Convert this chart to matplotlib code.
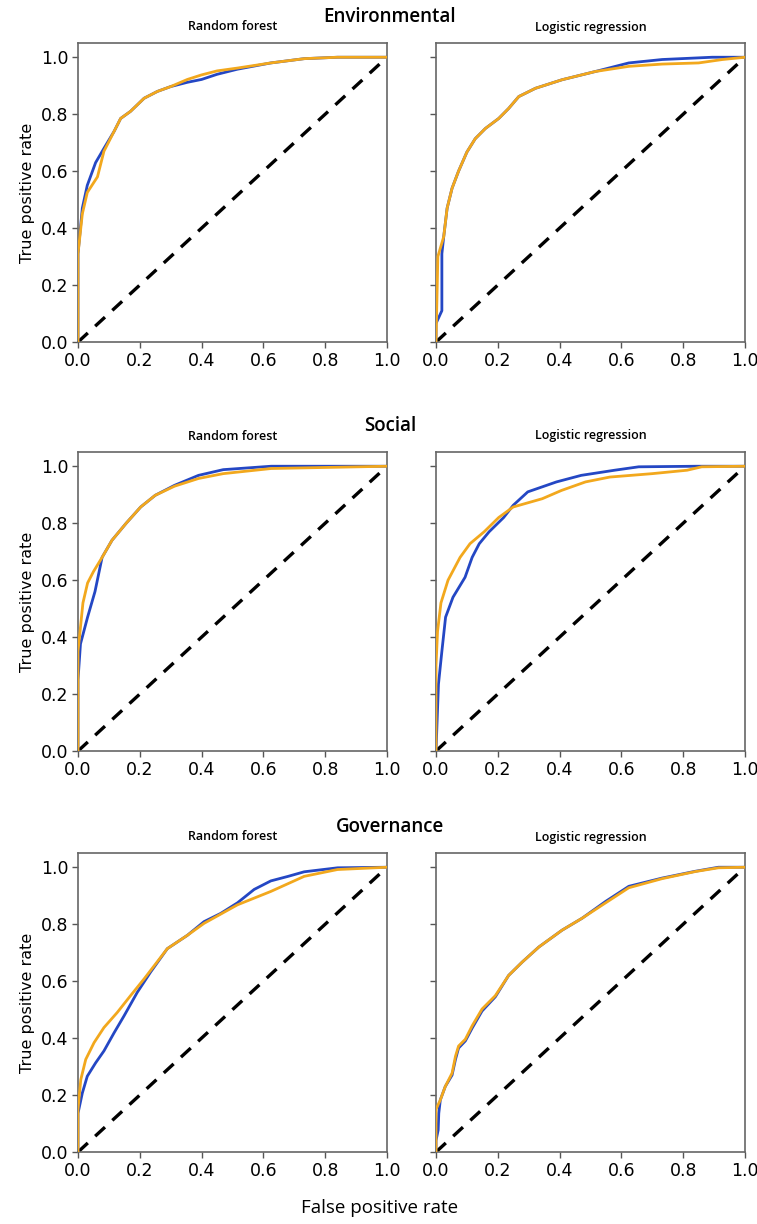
import matplotlib
matplotlib.use("Agg")
import matplotlib.pyplot as plt

# ROC curves (fpr, tpr), blue and orange runs per panel
env_rf_blue_fpr = [0, 0, 0.014, 0.03, 0.057, 0.084, 0.117, 0.138, 0.17, 0.214, 0.257, 0.30, 0.354, 0.40, 0.45, 0.516, 0.624, 0.732, 0.84, 1.0]
env_rf_blue_tpr = [0, 0.31, 0.47, 0.55, 0.63, 0.68, 0.74, 0.785, 0.81, 0.856, 0.88, 0.897, 0.912, 0.922, 0.94, 0.958, 0.98, 0.995, 1.0, 1.0]
env_rf_orng_fpr = [0, 0, 0.014, 0.03, 0.063, 0.084, 0.117, 0.138, 0.17, 0.214, 0.257, 0.30, 0.354, 0.40, 0.45, 0.516, 0.624, 0.732, 0.84, 1.0]
env_rf_orng_tpr = [0, 0.31, 0.45, 0.525, 0.58, 0.67, 0.74, 0.785, 0.81, 0.856, 0.88, 0.897, 0.922, 0.938, 0.952, 0.962, 0.98, 0.995, 1.0, 1.0]

env_lr_blue_fpr = [0, 0, 0.019, 0.019, 0.025, 0.036, 0.052, 0.073, 0.10, 0.127, 0.16, 0.203, 0.235, 0.268, 0.322, 0.408, 0.516, 0.624, 0.732, 0.894, 1.0]
env_lr_blue_tpr = [0, 0.065, 0.11, 0.31, 0.37, 0.47, 0.54, 0.60, 0.667, 0.714, 0.75, 0.785, 0.82, 0.862, 0.891, 0.921, 0.95, 0.98, 0.992, 1.0, 1.0]
env_lr_orng_fpr = [0, 0.006, 0.025, 0.036, 0.052, 0.073, 0.10, 0.127, 0.16, 0.203, 0.235, 0.268, 0.322, 0.408, 0.516, 0.624, 0.732, 0.85, 0.927, 1.0]
env_lr_orng_tpr = [0, 0.30, 0.37, 0.47, 0.54, 0.60, 0.667, 0.714, 0.75, 0.785, 0.82, 0.862, 0.891, 0.921, 0.95, 0.968, 0.976, 0.98, 0.992, 1.0]

soc_rf_blue_fpr = [0, 0, 0.008, 0.031, 0.055, 0.078, 0.11, 0.156, 0.203, 0.25, 0.3125, 0.39, 0.47, 0.625, 1.0]
soc_rf_blue_tpr = [0, 0.25, 0.376, 0.47, 0.56, 0.68, 0.74, 0.80, 0.857, 0.898, 0.933, 0.968, 0.988, 1.0, 1.0]
soc_rf_orng_fpr = [0, 0, 0.016, 0.031, 0.05, 0.078, 0.11, 0.156, 0.203, 0.25, 0.3125, 0.39, 0.47, 0.625, 1.0]
soc_rf_orng_tpr = [0, 0.35, 0.52, 0.59, 0.63, 0.68, 0.74, 0.80, 0.857, 0.898, 0.93, 0.957, 0.974, 0.992, 1.0]

soc_lr_blue_fpr = [0, 0.008, 0.019, 0.031, 0.055, 0.094, 0.117, 0.14, 0.172, 0.219, 0.25, 0.297, 0.39, 0.47, 0.578, 0.656, 0.844, 1.0]
soc_lr_blue_tpr = [0, 0.235, 0.35, 0.47, 0.54, 0.61, 0.68, 0.728, 0.77, 0.82, 0.863, 0.91, 0.945, 0.968, 0.986, 0.998, 1.0, 1.0]
soc_lr_orng_fpr = [0, 0, 0.005, 0.016, 0.039, 0.078, 0.11, 0.156, 0.203, 0.25, 0.344, 0.406, 0.484, 0.5625, 0.70, 0.8125, 0.86, 1.0]
soc_lr_orng_tpr = [0, 0.30, 0.42, 0.52, 0.60, 0.68, 0.728, 0.77, 0.82, 0.857, 0.886, 0.915, 0.945, 0.962, 0.974, 0.986, 0.998, 1.0]

gov_rf_blue_fpr = [0, 0, 0.014, 0.03, 0.057, 0.084, 0.117, 0.149, 0.192, 0.235, 0.289, 0.354, 0.408, 0.462, 0.516, 0.57, 0.624, 0.68, 0.732, 0.84, 1.0]
gov_rf_blue_tpr = [0, 0.136, 0.207, 0.266, 0.313, 0.355, 0.419, 0.478, 0.561, 0.632, 0.714, 0.761, 0.809, 0.838, 0.875, 0.922, 0.952, 0.968, 0.984, 0.998, 1.0]
gov_rf_orng_fpr = [0, 0, 0.009, 0.025, 0.052, 0.084, 0.127, 0.17, 0.214, 0.289, 0.354, 0.408, 0.516, 0.624, 0.732, 0.84, 1.0]
gov_rf_orng_tpr = [0, 0.15, 0.254, 0.325, 0.384, 0.437, 0.49, 0.549, 0.608, 0.714, 0.761, 0.803, 0.868, 0.915, 0.968, 0.992, 1.0]

gov_lr_blue_fpr = [0, 0, 0.007, 0.009, 0.014, 0.03, 0.052, 0.063, 0.073, 0.095, 0.117, 0.149, 0.192, 0.235, 0.279, 0.333, 0.408, 0.473, 0.549, 0.624, 0.732, 0.84, 0.914, 1.0]
gov_lr_blue_tpr = [0, 0.04, 0.077, 0.136, 0.183, 0.23, 0.27, 0.325, 0.365, 0.39, 0.435, 0.495, 0.545, 0.62, 0.667, 0.72, 0.779, 0.821, 0.88, 0.933, 0.962, 0.986, 1.0, 1.0]
gov_lr_orng_fpr = [0, 0, 0.014, 0.03, 0.052, 0.063, 0.073, 0.095, 0.117, 0.149, 0.192, 0.235, 0.279, 0.333, 0.408, 0.473, 0.549, 0.624, 0.732, 0.84, 0.914, 1.0]
gov_lr_orng_tpr = [0, 0.15, 0.183, 0.23, 0.277, 0.336, 0.372, 0.396, 0.443, 0.502, 0.549, 0.62, 0.667, 0.72, 0.779, 0.821, 0.875, 0.928, 0.96, 0.985, 0.998, 1.0]

row_titles = ["Environmental", "Social", "Governance"]
col_titles = ["Random forest", "Logistic regression"]
ticks = [0.0, 0.2, 0.4, 0.6, 0.8, 1.0]

panels = [
    [(env_rf_blue_fpr, env_rf_blue_tpr, env_rf_orng_fpr, env_rf_orng_tpr),
     (env_lr_blue_fpr, env_lr_blue_tpr, env_lr_orng_fpr, env_lr_orng_tpr)],
    [(soc_rf_blue_fpr, soc_rf_blue_tpr, soc_rf_orng_fpr, soc_rf_orng_tpr),
     (soc_lr_blue_fpr, soc_lr_blue_tpr, soc_lr_orng_fpr, soc_lr_orng_tpr)],
    [(gov_rf_blue_fpr, gov_rf_blue_tpr, gov_rf_orng_fpr, gov_rf_orng_tpr),
     (gov_lr_blue_fpr, gov_lr_blue_tpr, gov_lr_orng_fpr, gov_lr_orng_tpr)],
]

blue = '#2447c4'
orange = '#f2a81d'
W, H = 757, 1224
fig = plt.figure(figsize=(W / 100, H / 100), dpi=100, facecolor='white')

col_left = [78, 436]
ax_w = 309
row_bottom = [342, 751, 1152]
ax_h = 299

for r in range(3):
    for c in range(2):
        ax = fig.add_axes([col_left[c] / W, 1 - row_bottom[r] / H, ax_w / W, ax_h / H])
        bf, bt, of, ot = panels[r][c]
        ax.plot([0, 1], [0, 1], color='black', lw=2.4, linestyle=(0, (4, 3)), zorder=1)
        ax.plot(bf, bt, color=blue, lw=2.0, zorder=2)
        ax.plot(of, ot, color=orange, lw=2.0, zorder=3)
        ax.set_xlim(0, 1)
        ax.set_ylim(0, 1.05)
        ax.set_xticks(ticks)
        ax.set_yticks(ticks)
        ax.set_xticklabels([f'{t:.1f}' for t in ticks], fontsize=12.5)
        if c == 0:
            ax.set_yticklabels([f'{t:.1f}' for t in ticks], fontsize=12.5)
            ax.set_ylabel('True positive rate', fontsize=11.5, labelpad=4)
        else:
            ax.set_yticklabels([])
        ax.tick_params(direction='out', length=4, width=1, color='#555555', pad=3)
        for sp in ax.spines.values():
            sp.set_color('#666666')
            sp.set_linewidth(1.2)
        ax.set_title(col_titles[c], fontsize=9, family='Open Sans',
                     fontweight='semibold', pad=9)
    fig.text(390 / W, 1 - (row_bottom[r] - 325) / H, row_titles[r], fontsize=13.5,
             family='Open Sans', fontweight='semibold', ha='center', va='center')

fig.text(380 / W, 1 - 1208 / H, 'False positive rate', fontsize=13.5, family='Open Sans',
         ha='center', va='center')

fig.savefig('out.png', dpi=100, facecolor='white')
